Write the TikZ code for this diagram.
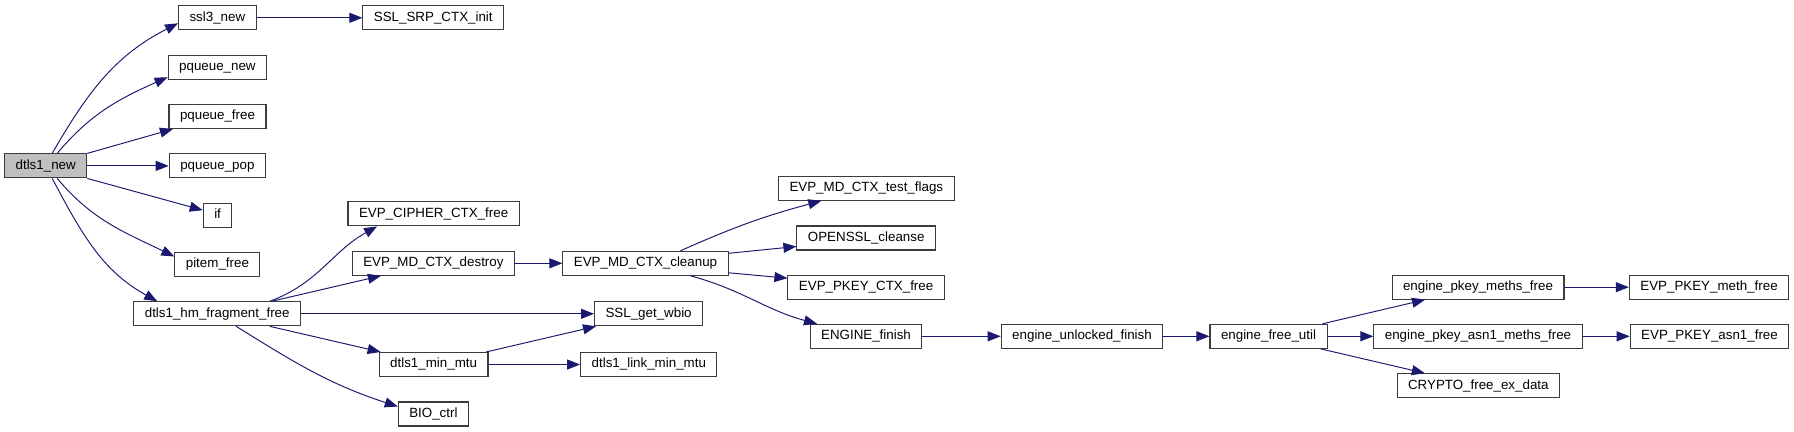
\documentclass[tikz,border=0pt]{standalone}
\usepackage{fontspec}
\setmainfont{Liberation Sans}
\usepackage{xcolor}
\usepackage{tikz}
\usetikzlibrary{arrows.meta}

\definecolor{calledge}{RGB}{25,25,112}
\definecolor{boxline}{RGB}{60,60,60}

\begin{document}
\begin{tikzpicture}[x=0.02cm,y=-0.02cm,
  fn/.style={draw=boxline,line width=0.6pt,fill=white,inner xsep=0.22cm,inner ysep=0pt,
    minimum height=0.48cm,text height=5.4pt,text depth=1.5pt,font=\fontsize{7.6}{9}\selectfont},
  call/.style={calledge,line width=0.55pt,-{Triangle[length=0.26cm,width=0.2cm]}}]
\useasboundingbox (0,0) rectangle (1794,432);

% first column
\node[fn,fill=gray!50] (new) at (45.7,165.9) {dtls1\_new};
\node[fn] (ssl3) at (217.4,17.8) {ssl3\_new};
\node[fn] (pqnew) at (217.4,67.2) {pqueue\_new};
\node[fn] (pqfree) at (217.5,116.5) {pqueue\_free};
\node[fn] (pqpop) at (217.4,165.9) {pqueue\_pop};
\node[fn] (if) at (217.6,215.2) {if};
\node[fn] (pitem) at (217.4,264.5) {pitem\_free};
\node[fn] (hm) at (217.2,313.8) {dtls1\_hm\_fragment\_free};

% second column
\node[fn] (srp) at (433.3,17.8) {SSL\_SRP\_CTX\_init};
\node[fn] (cipher) at (433.6,213.9) {EVP\_CIPHER\_CTX\_free};
\node[fn] (destroy) at (433.4,263.3) {EVP\_MD\_CTX\_destroy};
\node[fn] (minmtu) at (433.6,364.5) {dtls1\_min\_mtu};
\node[fn] (bio) at (433.4,414) {BIO\_ctrl};

\node[fn] (cleanup) at (645.5,263.3) {EVP\_MD\_CTX\_cleanup};
\node[fn] (wbio) at (648.6,313.8) {SSL\_get\_wbio};
\node[fn] (linkmtu) at (648.8,364.5) {dtls1\_link\_min\_mtu};

\node[fn] (flags) at (866.3,188.3) {EVP\_MD\_CTX\_test\_flags};
\node[fn] (cleanse) at (866.2,238) {OPENSSL\_cleanse};
\node[fn] (pkeyctx) at (866.1,287.2) {EVP\_PKEY\_CTX\_free};
\node[fn] (enfinish) at (866,336.3) {ENGINE\_finish};

\node[fn] (unlocked) at (1082,336.3) {engine\_unlocked\_finish};
\node[fn] (freeutil) at (1268.5,336.3) {engine\_free\_util};

\node[fn] (pkmeths) at (1478,287.2) {engine\_pkey\_meths\_free};
\node[fn] (asn1meths) at (1478,336.3) {engine\_pkey\_asn1\_meths\_free};
\node[fn] (crypto) at (1478.3,385.7) {CRYPTO\_free\_ex\_data};
\node[fn] (methfree) at (1709,287.2) {EVP\_PKEY\_meth\_free};
\node[fn] (asn1free) at (1709.5,336.3) {EVP\_PKEY\_asn1\_free};

% calls
\draw[call] ([xshift=0.13cm]new.north) to[out=60,in=207] ([yshift=-0.11cm]ssl3.west);
\draw[call] ([xshift=0.23cm]new.north) to[out=50,in=204] ([yshift=-0.2cm]pqnew.west);
\draw[call] (new.north east) -- ([xshift=0.09cm]pqfree.south west);
\draw[call] (new) -- (pqpop);
\draw[call] (new.south east) -- ([yshift=0.1cm]if.west);
\draw[call] ([xshift=0.23cm]new.south) to[out=-50,in=154] ([yshift=0.16cm]pitem.west);
\draw[call] ([xshift=0.13cm]new.south) to[out=-62,in=151] ([xshift=-1.2cm]hm.north);
\draw[call] (ssl3) -- (srp);

\draw[call] ([xshift=1.05cm]hm.north) to[out=20,in=209] ([xshift=-1.13cm]cipher.south);
\draw[call] ([xshift=1.09cm]hm.north) -- ([xshift=-1.05cm]destroy.south);
\draw[call] (hm) -- (wbio);
\draw[call] ([xshift=1.05cm]hm.south) -- ([xshift=-1.06cm]minmtu.north);
\draw[call] ([xshift=0.38cm]hm.south) to[out=-32,in=162] ([yshift=0.15cm]bio.west);

\draw[call] (destroy) -- (cleanup);
\draw[call] ([xshift=1.05cm]minmtu.north) -- ([xshift=0.04cm]wbio.south west);
\draw[call] (minmtu) -- (linkmtu);

\draw[call] ([xshift=0.7cm]cleanup.north) to[out=24,in=195] ([xshift=-0.9cm]flags.south);
\draw[call] ([yshift=0.2cm]cleanup.east) -- ([yshift=-0.17cm]cleanse.west);
\draw[call] ([yshift=-0.19cm]cleanup.east) -- ([yshift=0.18cm]pkeyctx.west);
\draw[call] ([xshift=0.9cm]cleanup.south) to[out=-15,in=165] ([xshift=-0.98cm]enfinish.north);

\draw[call] (enfinish) -- (unlocked);
\draw[call] (unlocked) -- (freeutil);
\draw[call] ([xshift=1.08cm]freeutil.north) -- ([xshift=-1.06cm]pkmeths.south);
\draw[call] (freeutil) -- (asn1meths);
\draw[call] ([xshift=1.04cm]freeutil.south) -- ([xshift=-1.07cm]crypto.north);
\draw[call] (pkmeths) -- (methfree);
\draw[call] (asn1meths) -- (asn1free);
\end{tikzpicture}
\end{document}
